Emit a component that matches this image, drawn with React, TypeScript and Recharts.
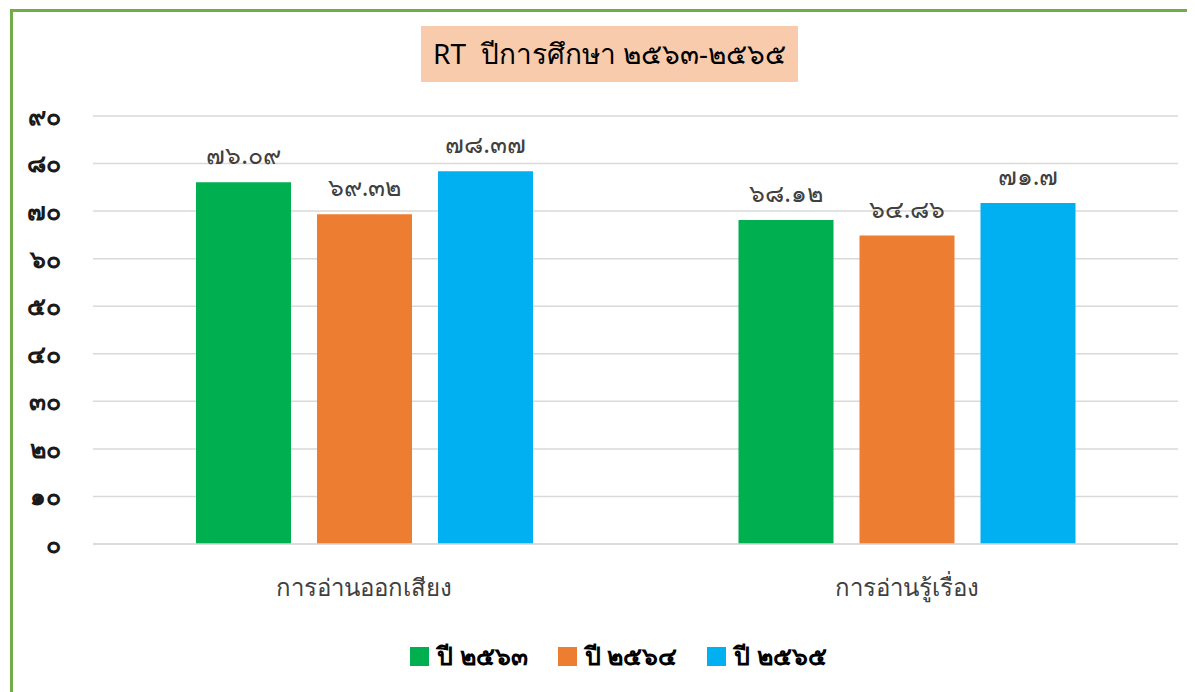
import { Bar, BarChart, CartesianGrid, LabelList, Legend, XAxis, YAxis } from "recharts";

const CATEGORIES = ["การอ่านออกเสียง", "การอ่านรู้เรื่อง"];
const SERIES_NAMES = ["ปี ๒๕๖๓", "ปี ๒๕๖๔", "ปี ๒๕๖๕"];
const Y2563 = [76.09, 68.12];
const Y2564 = [69.32, 64.86];
const Y2565 = [78.37, 71.7];
const Y_TICKS = [0, 10, 20, 30, 40, 50, 60, 70, 80, 90];
const COLORS = ["#00b050", "#ed7d31", "#00b0f0"];

const THAI_DIGITS = "๐๑๒๓๔๕๖๗๘๙";
const toThai = (v: number | string) =>
  String(v).replace(/\d/g, (d) => THAI_DIGITS[Number(d)]);

const FONT = "'Noto Sans', sans-serif";

const data = CATEGORIES.map((name, i) => ({
  name,
  s0: Y2563[i],
  s1: Y2564[i],
  s2: Y2565[i],
}));

function LegendContent() {
  return (
    <div style={{ display: "flex", justifyContent: "center", gap: 30, fontFamily: FONT }}>
      {SERIES_NAMES.map((n, i) => (
        <div key={n} style={{ display: "flex", alignItems: "center", gap: 8 }}>
          <span style={{ width: 19, height: 19, background: COLORS[i], display: "inline-block" }} />
          <span style={{ fontSize: 25, fontWeight: 700, color: "#000" }}>{n}</span>
        </div>
      ))}
    </div>
  );
}

export default function App() {
  return (
    <div style={{ position: "relative", width: 1187, height: 684, overflow: "hidden", background: "#fff" }}>
      <div
        style={{
          position: "absolute",
          left: 2,
          top: 1,
          width: 1300,
          height: 800,
          border: "3px solid #70ad47",
          boxSizing: "border-box",
        }}
      />
      <div
        style={{
          position: "absolute",
          left: 413,
          top: 18,
          width: 377,
          height: 56,
          background: "#f8cbad",
          display: "flex",
          alignItems: "center",
          justifyContent: "center",
          fontFamily: FONT,
          fontSize: 28,
          color: "#000",
          zIndex: 2,
          whiteSpace: "pre",
        }}
      >
        {"RT  ปีการศึกษา ๒๕๖๓-๒๕๖๕"}
      </div>
      <BarChart
        width={1187}
        height={684}
        data={data}
        margin={{ top: 108, right: 17, left: 0, bottom: 88 }}
        barSize={95}
        barGap={26}
        style={{ position: "absolute", left: 0, top: 0, fontFamily: FONT }}
      >
        <CartesianGrid vertical={false} stroke="#d9d9d9" strokeWidth={1.5} />
        <XAxis
          dataKey="name"
          height={60}
          tickLine={false}
          tickSize={0}
          tickMargin={35}
          axisLine={{ stroke: "#d9d9d9", strokeWidth: 1.5 }}
          tick={{ fill: "#404040", fontSize: 24 }}
        />
        <YAxis
          width={85}
          domain={[0, 90]}
          ticks={Y_TICKS}
          interval={0}
          axisLine={false}
          tickLine={false}
          tickSize={0}
          tickMargin={32}
          tickFormatter={(v) => toThai(v)}
          tick={{ fill: "#1a1a1a", fontSize: 25, fontWeight: 700 }}
        />
        <Legend
          verticalAlign="middle"
          align="center"
          content={<LegendContent />}
          wrapperStyle={{ top: 628, left: 17, width: 1187 }}
        />
        {["s0", "s1", "s2"].map((k, i) => (
          <Bar key={k} dataKey={k} name={SERIES_NAMES[i]} fill={COLORS[i]} isAnimationActive={false}>
            <LabelList
              dataKey={k}
              position="top"
              offset={18}
              formatter={(v: number) => toThai(v)}
              style={{ fill: "#404040", fontSize: 25 }}
            />
          </Bar>
        ))}
      </BarChart>
    </div>
  );
}
